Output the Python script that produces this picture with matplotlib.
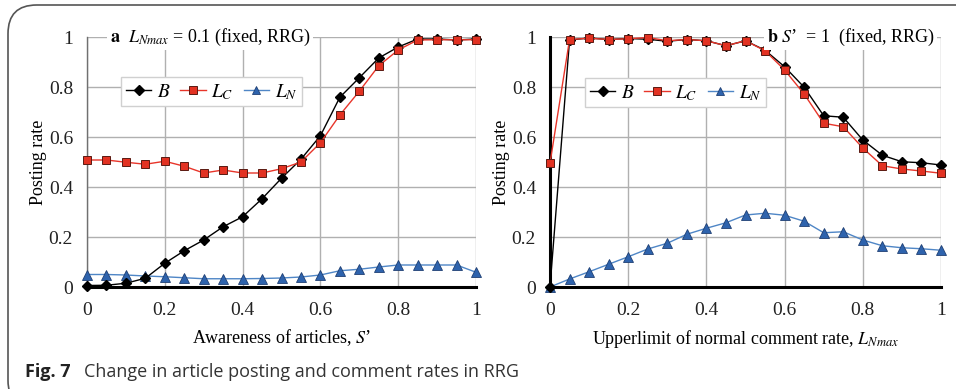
import matplotlib
matplotlib.use("Agg")
import matplotlib.pyplot as plt
from matplotlib.patches import FancyBboxPatch

plt.rcParams['font.family'] = ['Liberation Serif', 'DejaVu Serif']
plt.rcParams['mathtext.fontset'] = 'stix'

x_vals = [0, 0.05, 0.1, 0.15, 0.2, 0.25, 0.3, 0.35, 0.4, 0.45, 0.5,
          0.55, 0.6, 0.65, 0.7, 0.75, 0.8, 0.85, 0.9, 0.95, 1.0]

# Panel a: L_Nmax = 0.1 fixed, varying S'
a_B = [0.006, 0.007, 0.015, 0.035, 0.095, 0.145, 0.188, 0.241, 0.281, 0.353, 0.435,
       0.511, 0.605, 0.759, 0.837, 0.916, 0.960, 0.992, 0.992, 0.988, 0.992]
a_LC = [0.508, 0.508, 0.499, 0.491, 0.503, 0.483, 0.456, 0.468, 0.456, 0.456, 0.473,
        0.500, 0.577, 0.688, 0.783, 0.885, 0.948, 0.988, 0.989, 0.989, 0.989]
a_LN = [0.050, 0.050, 0.048, 0.044, 0.041, 0.037, 0.033, 0.033, 0.033, 0.034, 0.036,
        0.040, 0.048, 0.065, 0.071, 0.080, 0.088, 0.088, 0.088, 0.088, 0.059]

# Panel b: S' = 1 fixed, varying L_Nmax
b_B = [0.0, 0.988, 0.996, 0.990, 0.994, 0.991, 0.983, 0.990, 0.985, 0.965, 0.985,
       0.947, 0.881, 0.799, 0.685, 0.679, 0.588, 0.527, 0.501, 0.497, 0.488]
b_LC = [0.495, 0.990, 0.995, 0.990, 0.993, 0.998, 0.985, 0.990, 0.985, 0.965, 0.985,
        0.945, 0.868, 0.772, 0.655, 0.641, 0.556, 0.485, 0.472, 0.464, 0.455]
b_LN = [0.0, 0.032, 0.061, 0.091, 0.121, 0.152, 0.175, 0.211, 0.235, 0.257, 0.288,
        0.295, 0.287, 0.263, 0.217, 0.221, 0.188, 0.165, 0.157, 0.153, 0.147]

ticks = [0, 0.2, 0.4, 0.6, 0.8, 1]
tick_labels = ['0', '0.2', '0.4', '0.6', '0.8', '1']

fig = plt.figure(figsize=(9.56, 3.89), dpi=100)

# rounded frame
frame = FancyBboxPatch((8 / 956, -20 / 389), 1.05, (389 - 5 + 20) / 389,
                       boxstyle="round,pad=0,rounding_size=0.03",
                       transform=fig.transFigure, fill=False,
                       edgecolor='#555555', linewidth=1.2, clip_on=False,
                       mutation_aspect=956 / 389)
fig.patches.append(frame)

ax1 = fig.add_axes([87 / 956, 1 - 287 / 389, 389 / 956, 250 / 389])
ax2 = fig.add_axes([550 / 956, 1 - 287 / 389, 391 / 956, 250 / 389])

grid_c = '#b0b0b0'
legs = []
for ax, B, LC, LN, thick_y in [(ax1, a_B, a_LC, a_LN, False), (ax2, b_B, b_LC, b_LN, True)]:
    ax.set_xlim(0, 1)
    ax.set_ylim(0, 1)
    ax.set_xticks(ticks)
    ax.set_yticks(ticks)
    ax.set_xticklabels(tick_labels)
    ax.set_yticklabels(tick_labels)
    ax.tick_params(length=0, labelsize=14, pad=10, colors='#222222')
    ax.tick_params(axis='x', pad=11)
    ax.grid(True, color=grid_c, linewidth=1.0)
    ax.set_axisbelow(True)
    for s in ['top', 'right']:
        ax.spines[s].set_visible(False)
    ax.spines['bottom'].set_linewidth(2.2)
    ax.spines['bottom'].set_color('black')
    if thick_y:
        ax.spines['left'].set_linewidth(2.2)
        ax.spines['left'].set_color('black')
    else:
        ax.spines['left'].set_linewidth(1.0)
        ax.spines['left'].set_color('#707070')
    ax.plot(x_vals, LN, color='#4f86c6', linewidth=1.0, marker='^', markersize=7,
            markerfacecolor='#2e63ad', markeredgecolor='#1f3f73', markeredgewidth=0.6,
            clip_on=False, zorder=3, label='$L_N$')
    ax.plot(x_vals, B, color='black', linewidth=1.0, marker='D', markersize=5.5,
            markerfacecolor='black', markeredgecolor='black', clip_on=False, zorder=4,
            label='$B$')
    ax.plot(x_vals, LC, color='#e8352a', linewidth=1.0, marker='s', markersize=6,
            markerfacecolor='#e23222', markeredgecolor='#5a1a12', markeredgewidth=0.7,
            clip_on=False, zorder=5, label='$L_C$')
    ax.set_ylabel('Posting rate', fontsize=13, labelpad=1)
    handles, labels = ax.get_legend_handles_labels()
    order = [1, 2, 0]
    leg = ax.legend([handles[i] for i in order], [labels[i] for i in order],
                    ncol=3, loc='upper left', fontsize=14, frameon=True,
                    fancybox=False, edgecolor='#d0d0d0', framealpha=1,
                    handlelength=1.3, columnspacing=0.5, handletextpad=0.3,
                    borderpad=0.25, borderaxespad=0, markerscale=0.9)
    leg.get_frame().set_linewidth(1.0)
    leg.set_zorder(20)
    legs.append(leg)

legs[0].set_bbox_to_anchor((121 / 956, 1 - 77 / 389), transform=fig.transFigure)
legs[1].set_bbox_to_anchor((585 / 956, 1 - 78 / 389), transform=fig.transFigure)

ax1.set_xlabel('Awareness of articles, $S$\u2019', fontsize=13, labelpad=6)
ax2.set_xlabel('Upperlimit of normal comment rate, $L_{Nmax}$', fontsize=13, labelpad=6)

ax1.text(0.059, 1.0, r'$\mathbf{a}$  $L_{Nmax}$ = 0.1 (fixed, RRG)', transform=ax1.transAxes,
         fontsize=13, ha='left', va='center',
         bbox=dict(facecolor='white', edgecolor='none', pad=2), zorder=10)
ax2.text(0.982, 1.0, r'$\mathbf{b}$ $S$' + '\u2019  = 1  (fixed, RRG)', transform=ax2.transAxes,
         fontsize=13, ha='right', va='center',
         bbox=dict(facecolor='white', edgecolor='none', pad=2), zorder=10)

fig.text(25 / 956, 1 - 372 / 389, 'Fig. 7', fontsize=13, fontweight='bold',
         family=['Open Sans', 'DejaVu Sans'], ha='left', va='center', color='#222222')
fig.text(84 / 956, 1 - 372 / 389, 'Change in article posting and comment rates in RRG',
         fontsize=13, family=['Open Sans', 'DejaVu Sans'], ha='left', va='center',
         color='#333333')

fig.savefig('out.png', dpi=100)
